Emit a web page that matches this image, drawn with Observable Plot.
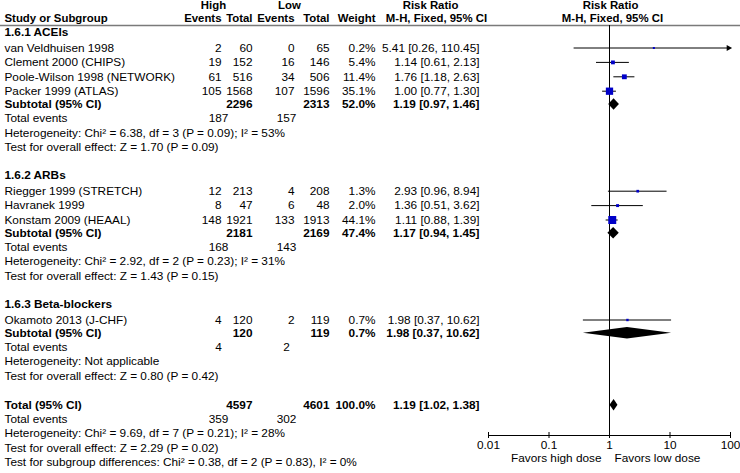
<!DOCTYPE html>
<html><head><meta charset="utf-8">
<style>body{margin:0;background:#fff}#c svg{display:block}</style>
</head><body><div id="c"></div>
<script src="https://cdn.jsdelivr.net/npm/d3@7"></script>
<script src="https://cdn.jsdelivr.net/npm/@observablehq/plot@0.6"></script>
<script>
// ---------- data ----------
const groupLabels = ["1.6.1 ACEIs", "1.6.2 ARBs", "1.6.3 Beta-blockers"];
const studyNames = ["van Veldhuisen 1998", "Clement 2000 (CHIPS)", "Poole-Wilson 1998 (NETWORK)", "Packer 1999 (ATLAS)",
  "Riegger 1999 (STRETCH)", "Havranek 1999", "Konstam 2009 (HEAAL)", "Okamoto 2013 (J-CHF)"];
const studyGroup = [0, 0, 0, 0, 1, 1, 1, 2];
const eventsHigh = [2, 19, 61, 105, 12, 8, 148, 4];
const totalHigh = [60, 152, 516, 1568, 213, 47, 1921, 120];
const eventsLow = [0, 16, 34, 107, 4, 6, 133, 2];
const totalLow = [65, 146, 506, 1596, 208, 48, 1913, 119];
const weights = [0.2, 5.4, 11.4, 35.1, 1.3, 2.0, 44.1, 0.7];
const rr = [5.41, 1.14, 1.76, 1.00, 2.93, 1.36, 1.11, 1.98];
const rrLow = [0.26, 0.61, 1.18, 0.77, 0.96, 0.51, 0.88, 0.37];
const rrHigh = [110.45, 2.13, 2.63, 1.30, 8.94, 3.62, 1.39, 10.62];

const subTotalHigh = [2296, 2181, 120];
const subTotalLow = [2313, 2169, 119];
const subWeight = [52.0, 47.4, 0.7];
const subRR = [1.19, 1.17, 1.98];
const subLow = [0.97, 0.94, 0.37];
const subHigh = [1.46, 1.45, 10.62];
const subEventsHigh = [187, 168, 4];
const subEventsLow = [157, 143, 2];
const subHet = ["Heterogeneity: Chi² = 6.38, df = 3 (P = 0.09); I² = 53%",
  "Heterogeneity: Chi² = 2.92, df = 2 (P = 0.23); I² = 31%",
  "Heterogeneity: Not applicable"];
const subEffect = ["Test for overall effect: Z = 1.70 (P = 0.09)",
  "Test for overall effect: Z = 1.43 (P = 0.15)",
  "Test for overall effect: Z = 0.80 (P = 0.42)"];

const overallTotalHigh = 4597, overallTotalLow = 4601, overallWeight = 100.0;
const overallRR = 1.19, overallLow = 1.02, overallHigh = 1.38;
const overallEventsHigh = 359, overallEventsLow = 302;
const overallHet = "Heterogeneity: Chi² = 9.69, df = 7 (P = 0.21); I² = 28%";
const overallEffect = "Test for overall effect: Z = 2.29 (P = 0.02)";
const subgroupTest = "Test for subgroup differences: Chi² = 0.38, df = 2 (P = 0.83), I² = 0%";

const tickValues = [0.01, 0.1, 1, 10, 100];
const tickLabels = ["0.01", "0.1", "1", "10", "100"];
const favorsLabels = ["Favors high dose", "Favors low dose"];

// ---------- layout ----------
const W = 740, H = 473, FS = 11.8, FSH = 11.4;
const cols = {
  study: {dx: 4, anchor: "start"},
  eh: {dx: 221, anchor: "end"}, th: {dx: 252, anchor: "end"},
  el: {dx: 294, anchor: "end"}, tl: {dx: 329, anchor: "end"},
  w: {dx: 375, anchor: "end"}, rr: {dx: 479, anchor: "end"},
  teh: {dx: 218, anchor: "middle"}, tel: {dx: 286, anchor: "middle"},
  high: {dx: 213, anchor: "middle"}, low: {dx: 289, anchor: "middle"},
  rrHead: {dx: 430, anchor: "middle"}, mhHead: {dx: 436, anchor: "middle"}
};
const fmtRR = (e, l, h) => `${e.toFixed(2)} [${l.toFixed(2)}, ${h.toFixed(2)}]`;
const fmtW = w => w.toFixed(1) + "%";

const items = [];
const studies = [];
const diamonds = [];
const add = (y, col, text, bold = false, head = false) => items.push({y, col, text: String(text), bold, head});

const headY1 = 4.6, headY2 = 17.4, lineY = 25, axisY = 435;
add(headY1, "high", "High", true, true); add(headY1, "low", "Low", true, true); add(headY1, "rrHead", "Risk Ratio", true, true);
add(headY2, "study", "Study or Subgroup", true, true);
add(headY2, "eh", "Events", true, true); add(headY2, "th", "Total", true, true);
add(headY2, "el", "Events", true, true); add(headY2, "tl", "Total", true, true);
add(headY2, "w", "Weight", true, true); add(headY2, "mhHead", "M-H, Fixed, 95% CI", true, true);

const rowStep = 14.2, studyStep = 14.4, headToStudy = 15.5, studyToSub = 13.3, groupGap = 28.6, totalGap = 29.4;
let y = 32;
groupLabels.forEach((g, gi) => {
  add(y, "study", g, true);
  y += headToStudy - studyStep;
  studyNames.forEach((name, i) => {
    if (studyGroup[i] !== gi) return;
    y += studyStep;
    add(y, "study", name);
    add(y, "eh", eventsHigh[i]); add(y, "th", totalHigh[i]);
    add(y, "el", eventsLow[i]); add(y, "tl", totalLow[i]);
    add(y, "w", fmtW(weights[i])); add(y, "rr", fmtRR(rr[i], rrLow[i], rrHigh[i]));
    studies.push({y, est: rr[i], lo: rrLow[i], hi: rrHigh[i], w: weights[i]});
  });
  y += studyToSub;
  add(y, "study", "Subtotal (95% CI)", true);
  add(y, "th", subTotalHigh[gi], true); add(y, "tl", subTotalLow[gi], true);
  add(y, "w", fmtW(subWeight[gi]), true); add(y, "rr", fmtRR(subRR[gi], subLow[gi], subHigh[gi]), true);
  diamonds.push({id: gi, y, est: subRR[gi], lo: subLow[gi], hi: subHigh[gi]});
  y += rowStep;
  add(y, "study", "Total events"); add(y, "teh", subEventsHigh[gi]); add(y, "tel", subEventsLow[gi]);
  y += rowStep; add(y, "study", subHet[gi]);
  y += rowStep; add(y, "study", subEffect[gi]);
  if (gi < groupLabels.length - 1) y += groupGap;
});
y += totalGap;
add(y, "study", "Total (95% CI)", true);
add(y, "th", overallTotalHigh, true); add(y, "tl", overallTotalLow, true);
add(y, "w", fmtW(overallWeight), true); add(y, "rr", fmtRR(overallRR, overallLow, overallHigh), true);
diamonds.push({id: 3, y, est: overallRR, lo: overallLow, hi: overallHigh});
y += rowStep;
add(y, "study", "Total events"); add(y, "teh", overallEventsHigh); add(y, "tel", overallEventsLow);
y += rowStep; add(y, "study", overallHet);
y += rowStep; add(y, "study", overallEffect);
y += rowStep; add(y, "study", subgroupTest);

const xMax = 100, dh = 5.8;
const diamondPts = diamonds.flatMap(d => [
  {id: d.id, x: d.lo, y1: d.y, y2: d.y},
  {id: d.id, x: d.est, y1: d.y - dh, y2: d.y + dh},
  {id: d.id, x: d.hi, y1: d.y, y2: d.y}
]);
const clipped = studies.filter(s => s.hi > xMax);

const font = "Liberation Sans, Arial, Helvetica, sans-serif";
const textMarks = [];
for (const [key, c] of Object.entries(cols)) {
  for (const bold of [false, true]) {
    for (const head of [false, true]) {
      const data = items.filter(d => d.col === key && d.bold === bold && d.head === head);
      if (!data.length) continue;
      textMarks.push(Plot.text(data, {y: "y", text: "text", frameAnchor: "left", dx: c.dx,
        textAnchor: c.anchor, fontSize: head ? FSH : FS, fontWeight: bold ? "bold" : "normal", fill: "#000"}));
    }
  }
}

const chart = Plot.plot({
  width: W, height: H,
  marginTop: 0, marginLeft: 0, marginRight: 0, marginBottom: H - axisY,
  style: {fontFamily: font, fontSize: FS + "px", background: "#fff", color: "#000", overflow: "visible"},
  x: {type: "log", domain: [0.01, 100], range: [488, 730], axis: null},
  y: {type: "linear", domain: [0, H], range: [0, H], axis: null},
  r: {type: "pow", exponent: 0.5, domain: [0, 44.1], range: [0.9, 4.5]},
  marks: [
    Plot.ruleY([lineY], {stroke: "#7a7a7a", strokeWidth: 1.6}),
    Plot.ruleX([1], {y1: lineY, y2: axisY, stroke: "#000", strokeWidth: 1}),
    ...textMarks,
    Plot.text([0], {x: () => 1, y: () => headY1, text: () => "Risk Ratio", fontSize: FSH, fontWeight: "bold", dx: 1}),
    Plot.text([0], {x: () => 1, y: () => headY2, text: () => "M-H, Fixed, 95% CI", fontSize: FSH, fontWeight: "bold", dx: 3}),
    Plot.ruleY(studies, {y: "y", x1: "lo", x2: d => Math.min(d.hi, xMax), stroke: "#000", strokeWidth: 1}),
    Plot.dot(clipped, {x: () => xMax, y: "y", symbol: "triangle", rotate: 90, r: 2.3, fill: "#000", stroke: "none", dx: -2}),
    Plot.dot(studies, {x: "est", y: "y", r: "w", symbol: "square", fill: "#0000c8", stroke: "none"}),
    Plot.areaY(diamondPts, {x: "x", y1: "y1", y2: "y2", z: "id", fill: "#000", curve: "linear"}),
    Plot.ruleY([axisY], {x1: () => tickValues[0], x2: () => tickValues[tickValues.length - 1], stroke: "#000"}),
    Plot.ruleX(tickValues, {y1: axisY - 3, y2: axisY, stroke: "#000"}),
    Plot.axisX({ticks: tickValues, tickFormat: d => tickLabels[tickValues.indexOf(d)], tickSize: 3, tickPadding: 2,
      fontSize: FS, label: null, anchor: "bottom", stroke: "#000"}),
    Plot.text([favorsLabels[0]], {x: () => 1, y: () => 457.5, text: d => d, textAnchor: "end", dx: -8, fontSize: FS}),
    Plot.text([favorsLabels[1]], {x: () => 1, y: () => 457.5, text: d => d, textAnchor: "start", dx: 5, fontSize: FS})
  ]
});
document.getElementById("c").append(chart);
</script>
</body></html>
